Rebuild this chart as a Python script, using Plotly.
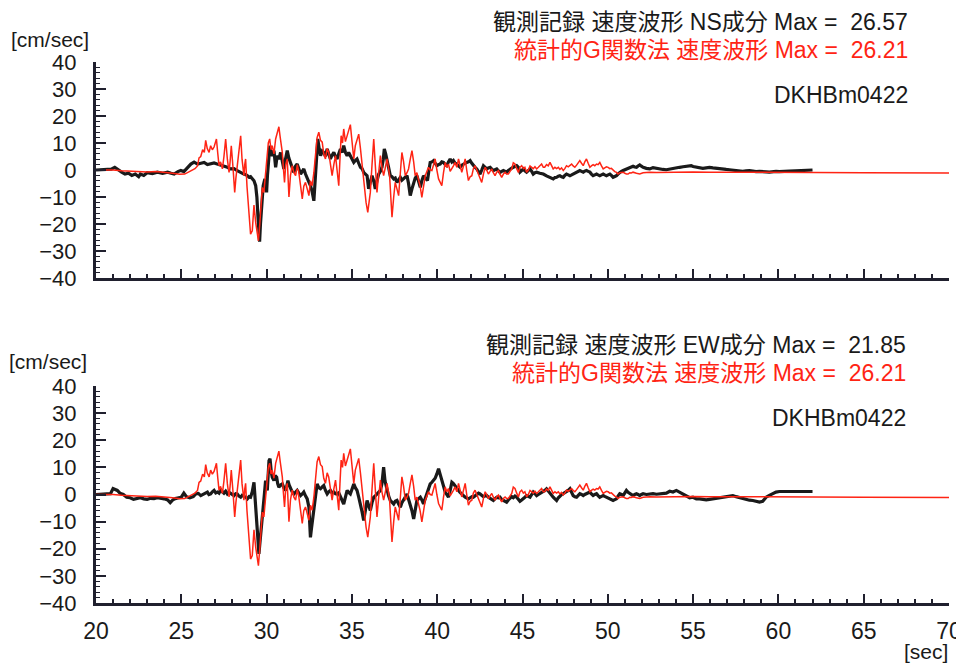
import plotly.graph_objects as go

# ---------------- data (time [sec], velocity [cm/sec]) ----------------
red_wave = [
    (20.0, 0), (21.0, 0), (21.5, -0.3), (22.0, -0.5), (22.5, -0.6), (23.0, -0.7), (23.5, -0.6),
    (24.0, -0.8), (24.5, -1.2), (24.9, -1.6), (25.2, -1.5), (25.5, -0.5), (25.8, 0.5), (25.95, 1.5),
    (26.04, 4.5), (26.14, 5.0), (26.25, 7.5), (26.35, 6.5), (26.43, 11.0), (26.52, 8.0), (26.63, 6.5),
    (26.72, 9.0), (26.82, 7.5), (26.92, 8.5), (27.0, 10.0), (27.06, 11.5), (27.14, 6.0), (27.21, 1.6),
    (27.3, 3.0), (27.41, 0.4), (27.5, 5.0), (27.6, 11.5), (27.7, 4.0), (27.8, -0.9), (27.86, 3.0),
    (27.93, 9.0), (28.03, 1.0), (28.13, -8.3), (28.2, -3.0), (28.28, 1.6), (28.38, 8.0), (28.48, 12.7),
    (28.56, 4.0), (28.67, -2.1), (28.72, 2.0), (28.77, 4.1), (28.85, -6.0), (28.97, -18.0), (29.06, -23.8),
    (29.16, -22.5), (29.26, -13.0), (29.36, -19.4), (29.45, -24.0), (29.52, -26.21), (29.6, -20.0),
    (29.65, -14.4), (29.75, -6.5), (29.84, -8.3), (29.94, -2.0), (30.04, 4.1), (30.1, 10.0), (30.18, 11.5),
    (30.26, 7.5), (30.33, 9.0), (30.43, 6.0), (30.53, 11.5), (30.62, 13.5), (30.72, 16.0), (30.8, 12.0),
    (30.92, 6.5), (30.98, 1.0), (31.05, -4.6), (31.12, 2.0), (31.21, 4.1), (31.31, -10.0), (31.4, -2.0),
    (31.5, 1.6), (31.6, -1.0), (31.7, -2.1), (31.8, 2.0), (31.89, -0.9), (31.98, -5.0), (32.09, -10.7),
    (32.18, -6.0), (32.28, -4.6), (32.38, -7.0), (32.48, -9.5), (32.57, -4.0), (32.67, -5.8), (32.77, -1.0),
    (32.87, 5.3), (32.96, 12.0), (33.06, 14.0), (33.16, 11.0), (33.26, 10.3), (33.35, 6.0), (33.45, 4.1),
    (33.55, 8.0), (33.64, 6.5), (33.74, 2.0), (33.84, -2.1), (33.94, 2.0), (34.04, 5.3), (34.13, 0.0),
    (34.23, -5.8), (34.3, 4.0), (34.37, 12.7), (34.45, 10.0), (34.52, 15.2), (34.62, 10.5), (34.72, 12.7),
    (34.8, 14.0), (34.91, 16.8), (35.0, 11.0), (35.11, 4.1), (35.2, 9.0), (35.3, 11.0), (35.4, 13.3),
    (35.5, 8.0), (35.59, 2.8), (35.66, -2.0), (35.73, -7.0), (35.83, -12.0), (35.93, -15.7), (36.0, -12.0),
    (36.08, -8.3), (36.18, 2.0), (36.28, 11.5), (36.37, 2.0), (36.47, -8.3), (36.57, -1.0), (36.67, 5.3),
    (36.76, 1.0), (36.86, -2.1), (36.96, 1.0), (37.06, 4.1), (37.14, 1.0), (37.21, -2.1), (37.28, -10.0),
    (37.35, -17.5), (37.45, -10.0), (37.54, -4.6), (37.64, -7.0), (37.74, -9.5), (37.84, -1.0), (37.93, 6.5),
    (38.03, 3.0), (38.13, -2.1), (38.23, -1.0), (38.32, 0.4), (38.42, 4.0), (38.52, 7.2), (38.62, 3.0),
    (38.71, -2.1), (38.81, -1.0), (38.91, -3.3), (39.0, -6.0), (39.1, -10.1), (39.2, -5.0), (39.3, -2.1),
    (39.4, -0.5), (39.49, 1.0), (39.59, 0.0), (39.69, -0.2), (39.79, 2.0), (39.88, 4.1), (39.98, 0.0),
    (40.08, -3.3), (40.17, -4.5), (40.27, -5.8), (40.37, -1.0), (40.47, 2.8), (40.56, 1.0), (40.66, 2.2),
    (40.76, -0.5), (40.86, 0.4), (40.95, 1.5), (41.05, 2.8), (41.15, 1.0), (41.25, 4.1), (41.34, 1.5),
    (41.44, -0.9), (41.54, 1.5), (41.64, 4.1), (41.73, 0.0), (41.83, -3.9), (41.93, -2.5), (42.03, -2.1),
    (42.12, 0.5), (42.22, 1.6), (42.32, 0.0), (42.42, -1.5), (42.51, -3.0), (42.61, -4.6), (42.71, -1.5),
    (42.81, 1.0), (42.9, 0.0), (43.0, -1.5), (43.1, -0.5), (43.2, 0.4), (43.29, -1.0), (43.39, -2.1),
    (43.49, -0.8), (43.59, -0.2), (43.68, -1.5), (43.78, -2.7), (43.88, -1.5), (43.98, -0.9), (44.07, -1.5),
    (44.17, -1.5), (44.27, -0.5), (44.37, 0.4), (44.46, 2.7), (44.56, 2.2), (44.66, 0.5), (44.76, -0.9),
    (44.85, 1.0), (44.95, 1.6), (45.05, 0.5), (45.14, 1.0), (45.24, -0.8), (45.34, 0.0), (45.44, 1.5),
    (45.54, 1.0), (45.63, 0.5), (45.73, 1.2), (45.83, 0.4), (45.93, 1.0), (46.02, 1.5), (46.12, 2.2),
    (46.22, 1.0), (46.3, 1.0), (46.41, 2.0), (46.51, 1.5), (46.61, 2.8), (46.7, 1.5), (46.8, 0.4),
    (46.9, 1.0), (47.0, 0.5), (47.1, 1.0), (47.19, 0.2), (47.29, 0.8), (47.39, -0.2), (47.48, 0.5),
    (47.58, 1.6), (47.68, 1.2), (47.78, 1.8), (47.88, 2.2), (47.97, 1.5), (48.07, 1.0), (48.17, 1.8),
    (48.27, 2.5), (48.36, 3.5), (48.46, 2.5), (48.56, 1.6), (48.65, 3.0), (48.75, 4.1), (48.85, 2.5),
    (48.95, 1.0), (49.04, 1.5), (49.14, 2.0), (49.24, 1.6), (49.34, 2.2), (49.43, 2.0), (49.53, 2.8),
    (49.63, 1.5), (49.73, 0.4), (49.82, 0.8), (49.92, 1.2), (50.02, 1.0), (50.12, 0.5), (50.21, 0.6),
    (50.31, -0.2), (50.41, -0.6), (50.51, -0.9), (50.6, -1.5), (50.7, -1.0), (50.8, -0.9), (50.9, -0.8),
    (51.0, -1.2), (51.09, -1.5), (51.19, -1.5), (51.29, -1.0), (51.38, -1.1), (51.48, -0.8), (51.68, -1.2),
    (51.87, -1.5), (52.07, -1.0), (52.26, -0.9), (52.46, -0.8), (52.85, -0.9), (53.43, -0.8), (54.0, -0.7),
    (55.0, -0.7), (56.0, -0.8), (57.0, -0.8), (58.0, -0.8), (60.0, -0.9), (62.0, -0.9), (65.0, -1.0),
    (70.0, -1.1),
]

ns_wave = [
    (20.0, 0), (20.5, 0.2), (20.9, 0.3), (21.1, 1.0), (21.3, 0.0), (21.5, -0.8), (21.7, -1.5), (21.9, -1.2),
    (22.1, -2.0), (22.3, -1.5), (22.5, -2.5), (22.6, -1.5), (22.8, -2.0), (23.0, -1.0), (23.3, -1.3),
    (23.6, -0.8), (23.9, -1.2), (24.2, -0.8), (24.4, -1.2), (24.58, -1.5), (24.8, -0.6), (24.97, -0.2),
    (25.15, -0.6), (25.36, 1.0), (25.56, 2.2), (25.75, 2.9), (25.95, 2.2), (26.15, 2.5), (26.34, 2.8),
    (26.53, 2.0), (26.72, 2.2), (26.92, 2.6), (27.1, 2.2), (27.3, 1.8), (27.5, 1.6), (27.7, 1.0),
    (27.89, 0.4), (28.09, 0.5), (28.28, -0.2), (28.48, -1.0), (28.67, -1.5), (28.85, -2.0), (28.97, -2.7),
    (29.06, -2.5), (29.16, -3.3), (29.26, -4.0), (29.36, -5.8), (29.43, -10.0), (29.49, -16.9),
    (29.55, -24.0), (29.59, -26.57), (29.64, -20.0), (29.69, -14.4), (29.75, -8.0), (29.8, -5.8),
    (29.9, -3.3), (30.0, -8.3), (30.05, -2.0), (30.1, 2.8), (30.19, 9.0), (30.26, 6.0), (30.33, 5.3),
    (30.43, 7.2), (30.53, 1.0), (30.62, 5.3), (30.72, 4.0), (30.82, 6.5), (30.92, 3.0), (31.01, 0.4),
    (31.11, 4.1), (31.21, 7.2), (31.3, 4.5), (31.4, 2.8), (31.5, 1.0), (31.6, -0.9), (31.7, 1.5),
    (31.79, 2.2), (31.89, 0.5), (31.99, -1.5), (32.09, -0.5), (32.18, 0.4), (32.28, -1.5), (32.38, -3.3),
    (32.48, -4.5), (32.57, -5.8), (32.67, -8.0), (32.77, -11.4), (32.85, -4.0), (32.92, 0.4), (33.0, 11.5),
    (33.08, 8.0), (33.16, 5.3), (33.26, 7.0), (33.35, 6.5), (33.45, 5.0), (33.55, 7.8), (33.64, 6.0),
    (33.74, 4.1), (33.84, 5.5), (33.94, 6.5), (34.04, 5.0), (34.13, 4.1), (34.23, 6.0), (34.33, 7.8),
    (34.43, 6.5), (34.52, 9.0), (34.62, 6.5), (34.72, 5.3), (34.81, 6.5), (34.91, 5.3), (35.01, 4.0),
    (35.11, 2.8), (35.2, 3.5), (35.3, 4.1), (35.4, 2.5), (35.5, 1.0), (35.6, 0.5), (35.69, -0.9),
    (35.79, -1.5), (35.89, -2.1), (35.98, -7.0), (36.08, -5.0), (36.18, -2.1), (36.28, -4.0), (36.37, -7.0),
    (36.47, -4.0), (36.57, -1.5), (36.67, -0.5), (36.76, 1.0), (36.84, 4.0), (36.9, 7.8), (36.98, 6.0),
    (37.06, 4.1), (37.15, 1.0), (37.25, -2.1), (37.35, -2.5), (37.45, -3.3), (37.54, -3.0), (37.64, -4.6),
    (37.74, -3.5), (37.84, -2.7), (37.93, -3.8), (38.03, -3.3), (38.13, -2.5), (38.23, -2.1), (38.32, -5.0),
    (38.42, -9.5), (38.52, -7.0), (38.62, -4.6), (38.71, -3.0), (38.81, -2.1), (38.91, -4.0), (39.01, -6.4),
    (39.1, -4.0), (39.2, -2.1), (39.3, -3.0), (39.43, -3.9), (39.52, 0.0), (39.59, 2.8), (39.69, 3.0),
    (39.79, 3.5), (39.88, 2.5), (39.98, 1.6), (40.08, 2.0), (40.17, 2.2), (40.27, 3.0), (40.37, 2.8),
    (40.47, 2.0), (40.56, 1.6), (40.66, 3.0), (40.76, 4.1), (40.86, 3.0), (40.95, 3.5), (41.05, 2.5),
    (41.15, 2.2), (41.25, 1.5), (41.34, 1.0), (41.44, 1.8), (41.54, 2.2), (41.64, 2.5), (41.73, 2.8),
    (41.83, 3.0), (41.93, 3.5), (42.03, 2.5), (42.12, 1.6), (42.22, 1.0), (42.32, 0.4), (42.42, -0.5),
    (42.51, -1.5), (42.61, 0.0), (42.71, 1.6), (42.81, 1.0), (42.9, 0.4), (43.0, 0.8), (43.1, 1.0),
    (43.2, 0.3), (43.29, -0.2), (43.39, 0.1), (43.49, 0.4), (43.59, -0.3), (43.68, -0.9), (43.78, -0.5),
    (43.88, -0.2), (43.98, -0.5), (44.07, -0.9), (44.17, -0.2), (44.27, 0.4), (44.37, 0.7), (44.46, 1.0),
    (44.56, 1.3), (44.66, 1.6), (44.76, 1.0), (44.85, -0.8), (44.95, -0.2), (45.05, 0.4), (45.14, -0.3),
    (45.24, -0.8), (45.34, -0.2), (45.44, 0.4), (45.54, -0.5), (45.63, -1.5), (45.73, -1.0), (45.83, -0.8),
    (46.02, -1.2), (46.22, -1.5), (46.41, -2.2), (46.61, -2.7), (46.7, -3.0), (46.8, -3.3), (46.9, -2.8),
    (47.0, -2.7), (47.1, -2.3), (47.19, -2.1), (47.29, -2.5), (47.39, -2.7), (47.48, -2.0), (47.58, -1.5),
    (47.68, -1.8), (47.78, -2.1), (47.88, -1.8), (47.97, -1.5), (48.07, -1.0), (48.17, -0.8), (48.27, -0.5),
    (48.36, -0.2), (48.46, -0.5), (48.56, -0.8), (48.65, -0.4), (48.75, -0.2), (48.85, -0.5), (48.95, -0.8),
    (49.04, -1.5), (49.14, -2.1), (49.24, -1.8), (49.34, -1.5), (49.43, -1.8), (49.53, -2.1), (49.63, -1.8),
    (49.73, -1.5), (49.82, -1.8), (49.92, -2.1), (50.02, -1.8), (50.12, -1.5), (50.21, -2.0), (50.31, -2.7),
    (50.41, -2.4), (50.51, -2.1), (50.6, -1.5), (50.7, -0.8), (50.8, -0.5), (50.9, -0.2), (51.0, 0.1),
    (51.09, 0.4), (51.19, 0.7), (51.29, 1.0), (51.38, 1.2), (51.48, 1.4), (51.58, 1.1), (51.68, 1.0),
    (51.77, 1.5), (51.87, 1.9), (51.97, 1.4), (52.07, 1.0), (52.26, 0.6), (52.46, 0.4), (52.65, 0.9),
    (52.85, 0.6), (53.04, 0.4), (53.24, 0.2), (53.43, 0.1), (53.63, 0.4), (53.82, 0.6), (54.02, 0.8),
    (54.21, 1.0), (54.41, 1.2), (54.6, 1.4), (54.8, 1.5), (54.89, 1.6), (55.0, 1.3), (55.19, 1.0),
    (55.38, 0.8), (55.57, 0.6), (55.77, 0.8), (55.96, 1.0), (56.16, 0.8), (56.35, 0.6), (56.55, 0.5),
    (56.74, 0.4), (56.94, 0.2), (57.13, 0.1), (57.33, 0.0), (57.52, -0.2), (57.72, -0.4), (57.91, -0.5),
    (58.11, -0.3), (58.3, -0.2), (58.5, -0.4), (58.69, -0.6), (58.89, -0.5), (59.08, -0.5), (59.28, -0.7),
    (59.47, -0.8), (59.67, -0.6), (59.86, -0.5), (60.06, -0.6), (60.25, -0.6), (60.45, -0.5), (60.64, -0.4),
    (61.0, -0.3), (61.23, -0.2), (61.6, -0.1), (62.0, 0.0),
]

ew_wave = [
    (20.0, 0), (20.5, 0.1), (20.85, 0.3), (21.0, 2.2), (21.1, 2.0), (21.25, 1.5), (21.4, 0.5), (21.6, 0.0),
    (21.8, -1.0), (22.0, -1.2), (22.2, -1.8), (22.4, -1.5), (22.6, -1.2), (22.8, -1.6), (23.0, -1.8),
    (23.2, -1.4), (23.4, -1.5), (23.6, -1.2), (23.8, -1.3), (24.0, -1.6), (24.2, -2.0), (24.35, -3.0),
    (24.5, -2.0), (24.65, -1.5), (24.85, -1.2), (25.0, -1.0), (25.15, 0.5), (25.3, -0.8), (25.5, -1.2),
    (25.7, -0.8), (25.85, 0.2), (26.0, 0.4), (26.14, -0.4), (26.34, 0.2), (26.53, 0.9), (26.62, 0.0),
    (26.72, 0.2), (26.82, 1.0), (26.92, 1.5), (27.02, 0.6), (27.12, 0.9), (27.21, 0.5), (27.31, 1.7),
    (27.41, 1.0), (27.5, 0.5), (27.6, 1.2), (27.7, 0.2), (27.8, 0.8), (27.89, 0.5), (27.99, 0.0),
    (28.09, -0.4), (28.19, 0.3), (28.28, 0.2), (28.38, -0.6), (28.48, -1.0), (28.57, -0.3), (28.67, -0.5),
    (28.77, -1.0), (28.87, -1.6), (28.97, -0.8), (29.06, -1.0), (29.16, 1.0), (29.26, 4.5), (29.31, 0.0),
    (29.36, -7.2), (29.43, -12.0), (29.49, -17.0), (29.55, -21.85), (29.62, -17.0), (29.69, -10.8),
    (29.75, -8.0), (29.8, -4.7), (29.87, 0.0), (29.94, 5.1), (30.0, 3.0), (30.04, 1.5), (30.09, 7.0),
    (30.14, 12.5), (30.2, 13.2), (30.23, 10.1), (30.28, 8.0), (30.33, 6.4), (30.43, 5.1), (30.5, 7.0),
    (30.59, 6.4), (30.65, 4.0), (30.72, 2.7), (30.82, 3.5), (30.92, 3.9), (31.01, 2.5), (31.11, 1.5),
    (31.18, 3.0), (31.25, 5.1), (31.32, 3.5), (31.4, 2.1), (31.5, 1.0), (31.6, 0.2), (31.7, 0.8),
    (31.79, 1.5), (31.89, 0.5), (31.99, -0.4), (32.09, 0.2), (32.18, 0.9), (32.28, -0.5), (32.38, -1.6),
    (32.48, -4.7), (32.53, -10.0), (32.57, -15.8), (32.62, -13.0), (32.67, -10.8), (32.77, -4.7),
    (32.87, 0.0), (32.96, 3.9), (33.06, 2.5), (33.16, 2.1), (33.26, 2.8), (33.35, 3.3), (33.45, 1.5),
    (33.55, 0.2), (33.64, 1.0), (33.74, 1.5), (33.84, 0.5), (33.94, 0.9), (34.04, 0.3), (34.13, 0.2),
    (34.23, 0.6), (34.33, -1.0), (34.43, -2.0), (34.52, -3.5), (34.62, -1.0), (34.72, 1.5), (34.81, 0.8),
    (34.91, 0.2), (35.01, 2.0), (35.11, 3.9), (35.2, 2.5), (35.3, 1.5), (35.4, -1.0), (35.5, -3.5),
    (35.6, -6.5), (35.69, -9.6), (35.79, -5.0), (35.89, -2.2), (35.98, -4.0), (36.08, -5.9), (36.18, -3.0),
    (36.28, -1.0), (36.37, -0.5), (36.47, 0.2), (36.57, 1.0), (36.67, 1.5), (36.76, 4.0), (36.86, 10.1),
    (36.94, 5.0), (37.06, 1.5), (37.15, -0.5), (37.25, -2.2), (37.35, -3.0), (37.45, -3.5), (37.54, -2.5),
    (37.64, -2.2), (37.74, -3.5), (37.84, -4.7), (37.93, -3.0), (38.03, -2.2), (38.13, -1.0), (38.23, 0.2),
    (38.32, -1.5), (38.42, -3.5), (38.52, -6.0), (38.62, -9.0), (38.71, -5.0), (38.81, -2.2), (38.91, -1.5),
    (39.01, -1.0), (39.1, -2.0), (39.2, -3.5), (39.3, -1.5), (39.4, 0.2), (39.49, 2.0), (39.59, 3.9),
    (39.69, 4.5), (39.79, 5.1), (39.88, 6.0), (39.98, 7.6), (40.08, 9.5), (40.17, 7.5), (40.27, 5.1),
    (40.37, 3.0), (40.47, 0.9), (40.56, 0.0), (40.66, -1.0), (40.76, 1.5), (40.86, 4.5), (40.95, 4.0),
    (41.05, 3.3), (41.15, 2.5), (41.25, 1.5), (41.34, 0.8), (41.44, 0.0), (41.54, -0.4), (41.64, -1.0),
    (41.73, -1.2), (41.83, -1.6), (41.93, -1.2), (42.03, -0.8), (42.12, -1.0), (42.22, -0.5), (42.32, 0.0),
    (42.42, 0.5), (42.51, 0.2), (42.61, -0.3), (42.71, -0.8), (42.81, -0.5), (42.9, -0.4), (43.0, -1.0),
    (43.1, -1.5), (43.2, -1.8), (43.29, -2.2), (43.39, -1.5), (43.49, -1.0), (43.59, -1.2), (43.68, -1.0),
    (43.78, -1.8), (43.88, -2.2), (43.98, -2.5), (44.07, -2.8), (44.17, -2.0), (44.27, -1.2), (44.37, -0.8),
    (44.46, -1.2), (44.56, -0.6), (44.66, -1.0), (44.76, -1.8), (44.85, -2.5), (44.95, -2.0), (45.05, -1.6),
    (45.14, -1.0), (45.24, -0.4), (45.34, -0.8), (45.44, -1.0), (45.54, 0.0), (45.63, 0.9), (45.73, 0.3),
    (45.83, -0.4), (45.93, 0.0), (46.02, 0.3), (46.12, 0.6), (46.22, 0.9), (46.31, 1.5), (46.41, 2.1),
    (46.51, 1.2), (46.61, 0.3), (46.7, -0.4), (46.8, -1.0), (46.9, -1.6), (47.0, -2.2), (47.1, -1.2),
    (47.19, -0.4), (47.29, 0.0), (47.39, 0.3), (47.48, 0.6), (47.58, 0.9), (47.68, 1.5), (47.78, 2.1),
    (47.88, 0.8), (47.97, -0.4), (48.07, -0.8), (48.17, -1.0), (48.27, -0.3), (48.36, 0.3), (48.46, 0.0),
    (48.56, -0.4), (48.65, 0.0), (48.75, 0.3), (48.85, 0.6), (48.95, 0.9), (49.04, 0.2), (49.14, -0.4),
    (49.24, 0.0), (49.34, 0.3), (49.43, -0.4), (49.53, -1.0), (49.63, -0.7), (49.73, -0.4), (49.82, -0.7),
    (49.92, -1.0), (50.02, -1.3), (50.12, -1.6), (50.21, -1.9), (50.31, -2.2), (50.41, -1.9), (50.51, -1.6),
    (50.6, -0.6), (50.7, 0.3), (50.8, 0.0), (50.9, -0.4), (51.0, 0.6), (51.09, 1.5), (51.19, 0.8),
    (51.29, 0.3), (51.38, 0.0), (51.48, -0.4), (51.58, 0.0), (51.68, 0.3), (51.77, 0.0), (51.87, -0.4),
    (51.97, 0.0), (52.07, 0.3), (52.26, 0.0), (52.46, 0.2), (52.65, 0.3), (52.85, 0.1), (53.04, 0.3),
    (53.24, 0.4), (53.43, 0.5), (53.63, 1.2), (53.82, 0.9), (54.02, 1.5), (54.21, 0.9), (54.41, 0.3),
    (54.6, -0.4), (54.8, -1.2), (54.99, -1.0), (55.19, -1.6), (55.38, -1.6), (55.57, -1.8), (55.77, -2.0),
    (55.96, -1.8), (56.16, -1.6), (56.35, -1.3), (56.55, -1.0), (56.74, -0.8), (56.94, -0.7), (57.13, -0.5),
    (57.33, -0.4), (57.52, -0.8), (57.72, -1.2), (57.91, -1.6), (58.11, -2.0), (58.3, -2.1), (58.5, -2.2),
    (58.69, -2.5), (58.89, -2.8), (59.08, -2.5), (59.28, -1.0), (59.47, -0.3), (59.67, 0.3), (59.86, 0.9),
    (60.06, 1.1), (61.0, 1.1), (62.0, 1.1),
]

y_ticks = [-40, -30, -20, -10, 0, 10, 20, 30, 40]
x_ticks = [20, 25, 30, 35, 40, 45, 50, 55, 60, 65, 70]

top_texts = ["観測記録 速度波形 NS成分 Max =  26.57", "統計的G関数法 速度波形 Max =  26.21"]
bottom_texts = ["観測記録 速度波形 EW成分 Max =  21.85", "統計的G関数法 速度波形 Max =  26.21"]
station = "DKHBm0422"

# ---------------- figure ----------------
FONT = "Liberation Sans, Arial, Helvetica, Noto Sans CJK JP, sans-serif"
BLACK = "#1a1a1a"
RED = "#ff2414"
AXIS = "#20202e"

rt = [p[0] for p in red_wave]; rv = [p[1] for p in red_wave]
nt = [p[0] for p in ns_wave]; nv = [p[1] for p in ns_wave]
et = [p[0] for p in ew_wave]; ev = [p[1] for p in ew_wave]

fig = go.Figure()
fig.add_trace(go.Scatter(x=nt, y=nv, mode="lines", line=dict(color=BLACK, width=3.2), xaxis="x", yaxis="y"))
fig.add_trace(go.Scatter(x=rt, y=rv, mode="lines", line=dict(color=RED, width=1.5), xaxis="x", yaxis="y"))
fig.add_trace(go.Scatter(x=et, y=ev, mode="lines", line=dict(color=BLACK, width=3.2), xaxis="x2", yaxis="y2"))
fig.add_trace(go.Scatter(x=rt, y=rv, mode="lines", line=dict(color=RED, width=1.5), xaxis="x2", yaxis="y2"))

# page body has an 8px margin: the figure starts at (8, 8) in the window
OFF = 8
W, H = 964 - OFF, 664 - OFF
PL, PR, PT, PB = 96, 949, 62, 603          # target plot edges in window pixels
L, R, T, B = PL - OFF, (W + OFF) - PR, PT - OFF, (H + OFF) - PB
pw, ph = W - L - R, H - T - B

def px(x):
    return (x - PL) / pw

def py(y):
    return (PB - y) / ph

xcommon = dict(range=[20, 70], tickvals=x_ticks, ticks="inside", ticklen=9, tickwidth=2,
               tickcolor=AXIS, showline=True, linecolor=AXIS, linewidth=2.5, showgrid=False,
               zeroline=False, automargin=False,
               minor=dict(dtick=1, ticks="inside", ticklen=4, tickwidth=1.5, tickcolor=AXIS),
               tickfont=dict(family=FONT, size=23, color=BLACK))
ycommon = dict(range=[-40, 40], tickvals=y_ticks, ticks="inside", ticklen=10, tickwidth=2,
               tickcolor=AXIS, showline=True, linecolor=AXIS, linewidth=3, showgrid=False,
               zeroline=False, automargin=False,
               minor=dict(tick0=0, dtick=2, ticks="inside", ticklen=4, tickwidth=1.2, tickcolor=AXIS),
               tickfont=dict(family=FONT, size=22, color=BLACK), ticklabelstandoff=12)

top_bottom = py(278)
bot_top = py(386)

fig.update_layout(
    width=W, height=H, margin=dict(l=L, r=R, t=T, b=B, autoexpand=False),
    paper_bgcolor="white", plot_bgcolor="white", showlegend=False,
    xaxis=dict(**xcommon, domain=[0, 1], anchor="y", showticklabels=False),
    yaxis=dict(**ycommon, domain=[top_bottom, 1], anchor="x"),
    xaxis2=dict(**xcommon, domain=[0, 1], anchor="y2", showticklabels=True, ticklabelstandoff=6),
    yaxis2=dict(**ycommon, domain=[0, bot_top], anchor="x2"),
)

ann = []
def add_text(text, xr, yc, color, size, anchor="right"):
    ann.append(dict(text=text, x=px(xr), y=py(yc), xref="paper", yref="paper",
                    xanchor=anchor, yanchor="middle", showarrow=False, borderpad=0,
                    font=dict(family=FONT, size=size, color=color)))

add_text(top_texts[0], 909, 22, BLACK, 23)
add_text(top_texts[1], 909, 50, RED, 23)
add_text(station, 909, 95, BLACK, 23)
add_text(bottom_texts[0], 907, 345, BLACK, 23)
add_text(bottom_texts[1], 907, 373, RED, 23)
add_text(station, 907, 418, BLACK, 23)
add_text("[cm/sec]", 10, 40, BLACK, 21, anchor="left")
add_text("[cm/sec]", 8, 361, BLACK, 21, anchor="left")
add_text("[sec]", 949, 651, BLACK, 21)
fig.update_layout(annotations=ann)

fig.write_html("out.html")
